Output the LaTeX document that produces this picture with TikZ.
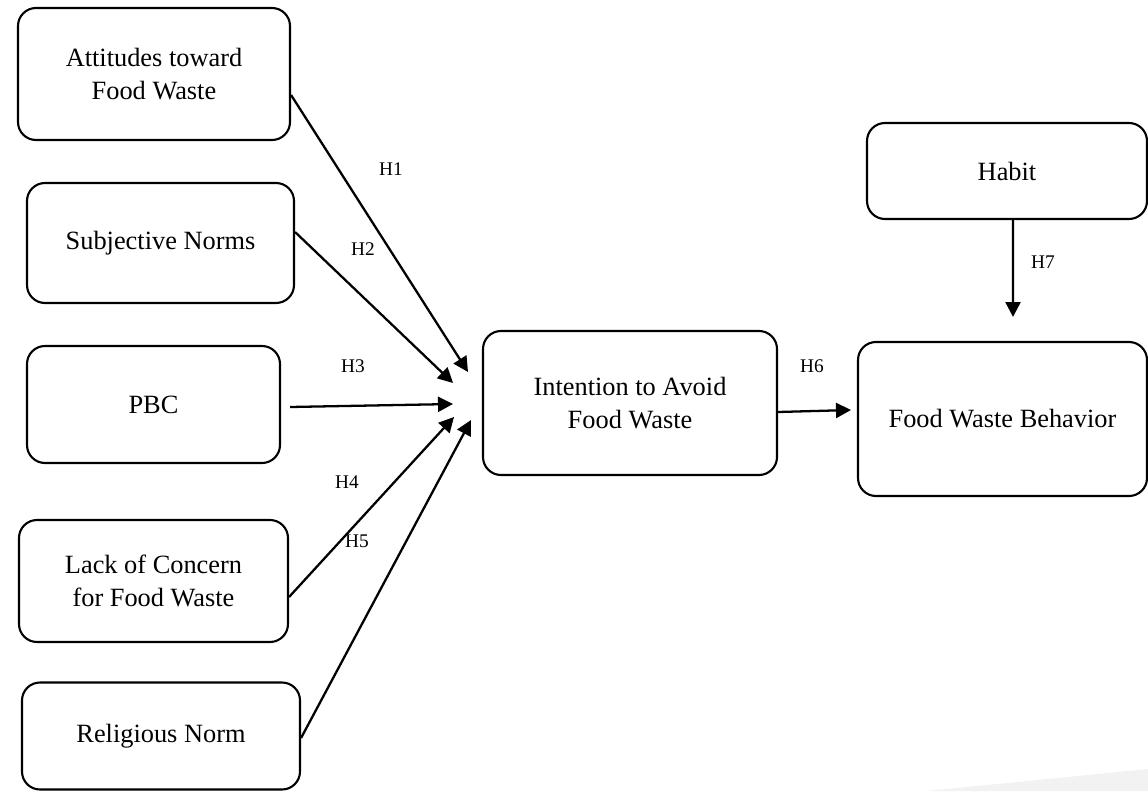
\documentclass[tikz,border=0pt]{standalone}
\usepackage{fontspec}
\setmainfont{Liberation Serif}
\usepackage{tikz}
\usetikzlibrary{arrows.meta,positioning}

\begin{document}
\begin{tikzpicture}[
    construct/.style={rectangle, rounded corners=0.36cm, draw, line width=1.2pt, align=center, inner sep=0pt, font=\fontsize{15}{18.5}\selectfont},
    hyp/.style={inner sep=0pt, font=\fontsize{11}{13}\selectfont},
    arrow/.style={-{Triangle[length=0.3cm,width=0.3cm]}, line width=1.3pt}
]
    \useasboundingbox (0,0) rectangle (22.96,-15.82);
    % faint page shade, bottom right
    \fill[black!5] (18.54,-15.82) -- (22.96,-15.38) -- (22.96,-15.82) -- cycle;

    % Predictors
    \node[construct, minimum width=5.44cm, minimum height=2.64cm] (att) at (3.08,-1.48) {Attitudes toward\\Food Waste};
    \node[construct, minimum width=5.34cm, minimum height=2.4cm] (subj) at (3.21,-4.86) {Subjective Norms};
    \node[construct, minimum width=5.06cm, minimum height=2.34cm] (pbc) at (3.07,-8.09) {PBC};
    \node[construct, minimum width=5.38cm, minimum height=2.44cm] (lack) at (3.07,-11.62) {Lack of Concern\\for Food Waste};
    \node[construct, minimum width=5.56cm, minimum height=2.14cm] (rel) at (3.22,-14.72) {Religious Norm};

    % Intention and behaviour
    \node[construct, minimum width=5.88cm, minimum height=2.88cm] (intent) at (12.6,-8.06) {Intention to Avoid\\Food Waste};
    \node[construct, minimum width=5.6cm, minimum height=1.92cm] (habit) at (20.14,-3.42) {Habit};
    \node[construct, minimum width=5.78cm, minimum height=3.08cm] (fwb) at (20.05,-8.38) {Food Waste Behavior};

    % Arrow tips
    \coordinate (t1) at (9.36,-7.44);
    \coordinate (t2) at (9.06,-7.66);
    \coordinate (t3) at (9.06,-8.08);
    \coordinate (t4) at (9.08,-8.34);
    \coordinate (t5) at (9.42,-8.40);
    \coordinate (t6) at (17.02,-8.20);
    \coordinate (t7) at (20.26,-6.34);

    % Paths
    \draw[arrow] ([yshift=-0.42cm]att.east) -- (t1);
    \draw[arrow] ([yshift=0.22cm]subj.east) -- (t2);
    \draw[arrow] ([xshift=0.18cm,yshift=-0.05cm]pbc.east) -- (t3);
    \draw[arrow] ([yshift=-0.32cm]lack.east) -- (t4);
    \draw[arrow] ([yshift=-0.04cm]rel.east) -- (t5);
    \draw[arrow] ([yshift=-0.18cm]intent.east) -- (t6);
    \draw[arrow] ([xshift=0.12cm]habit.south) -- (t7);

    % Hypotheses
    \node[hyp] (h1) at (7.82,-3.38) {H1};
    \node[hyp] (h2) at (7.26,-4.98) {H2};
    \node[hyp] (h3) at (7.06,-7.32) {H3};
    \node[hyp] (h4) at (6.94,-9.64) {H4};
    \node[hyp] (h5) at (7.14,-10.82) {H5};
    \node[hyp] (h6) at (16.24,-7.32) {H6};
    \node[hyp] (h7) at (20.86,-5.24) {H7};
\end{tikzpicture}
\end{document}
